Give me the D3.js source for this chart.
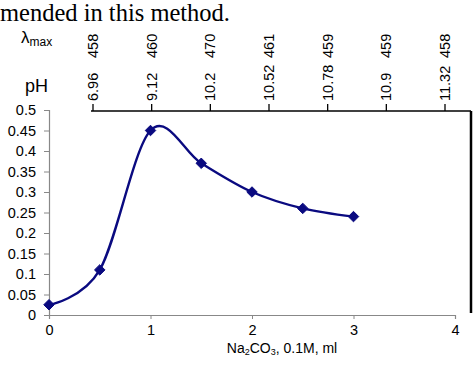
<!DOCTYPE html>
<html><head><meta charset="utf-8">
<script src="https://cdn.jsdelivr.net/npm/d3@7"></script>
<style>body{margin:0;background:#fff}svg{display:block}</style>
</head><body>
<svg id="c" width="474" height="373"></svg>
<script>
const xValues = [0, 0.5, 1, 1.5, 2, 2.5, 3];
const absorbance = [0.025, 0.11, 0.45, 0.37, 0.30, 0.26, 0.24];
const phLabels = ["6.96", "9.12", "10.2", "10.52", "10.78", "10.9", "11.32"];
const lambdaMax = ["458", "460", "470", "461", "459", "459", "458"];
const yTicks = [0, 0.05, 0.1, 0.15, 0.2, 0.25, 0.3, 0.35, 0.4, 0.45, 0.5];
const xTicks = [0, 1, 2, 3, 4];

const svg = d3.select("#c");
const font = "'Liberation Sans', Arial, sans-serif";
const x = d3.scaleLinear().domain([0, 4]).range([49, 455]);
const y = d3.scaleLinear().domain([0, 0.5]).range([315, 110]);
const topX = d3.scalePoint().domain(d3.range(phLabels.length)).range([93, 445]);

// caption fragment
svg.append("text").attr("x", 0).attr("y", 20.5)
  .attr("font-family", "'Liberation Serif', 'Times New Roman', serif")
  .attr("font-size", 24.5).attr("fill", "#000").text("mended in this method.");

// y axis
const ya = svg.append("g").attr("transform", "translate(49,0)")
  .call(d3.axisLeft(y).tickValues(yTicks).tickSize(5).tickPadding(8).tickFormat(d3.format("~g")));
ya.select(".domain").attr("stroke", "#888").attr("stroke-width", 1.2);
ya.selectAll(".tick line").attr("stroke", "#888");
ya.selectAll("text").attr("font-family", font).attr("font-size", 14.5).attr("fill", "#000");

// x axis
const xa = svg.append("g").attr("transform", "translate(0,315)")
  .call(d3.axisBottom(x).tickValues(xTicks).tickSize(4).tickPadding(6).tickFormat(d3.format("d")));
xa.select(".domain").attr("stroke", "#888").attr("stroke-width", 1.2);
xa.selectAll(".tick line").attr("stroke", "#888");
xa.selectAll("text").attr("font-family", font).attr("font-size", 14.5).attr("fill", "#000");

// x axis title
const xt = svg.append("text").attr("x", 282).attr("y", 353).attr("text-anchor", "middle")
  .attr("font-family", font).attr("font-size", 14).attr("fill", "#000");
xt.append("tspan").text("Na");
xt.append("tspan").attr("font-size", 9).attr("dy", 2).text("2");
xt.append("tspan").attr("dy", -2).text("CO");
xt.append("tspan").attr("font-size", 9).attr("dy", 2).text("3");
xt.append("tspan").attr("dy", -2).text(", 0.1M, ml");

// top secondary axis (pH / λmax)
svg.append("line").attr("x1", 91).attr("x2", 471).attr("y1", 111).attr("y2", 111)
  .attr("stroke", "#000").attr("stroke-width", 1.5);
svg.append("line").attr("x1", 471).attr("x2", 471).attr("y1", 111).attr("y2", 313)
  .attr("stroke", "#000").attr("stroke-width", 2.5);
const tg = svg.append("g");
tg.selectAll("line.t").data(phLabels).join("line")
  .attr("x1", (d, i) => topX(i)).attr("x2", (d, i) => topX(i))
  .attr("y1", 111).attr("y2", 104).attr("stroke", "#000").attr("stroke-width", 1.3);
tg.selectAll("text.ph").data(phLabels).join("text")
  .attr("transform", (d, i) => `translate(${topX(i)},101) rotate(-90)`)
  .attr("dy", "0.35em").attr("text-anchor", "start")
  .attr("font-family", font).attr("font-size", 14.5).attr("fill", "#000").text(d => d);
tg.selectAll("text.lm").data(lambdaMax).join("text")
  .attr("transform", (d, i) => `translate(${topX(i)},58) rotate(-90)`)
  .attr("dy", "0.35em").attr("text-anchor", "start")
  .attr("font-family", font).attr("font-size", 14.5).attr("fill", "#000").text(d => d);

const lt = svg.append("text").attr("x", 21).attr("y", 42.5)
  .attr("font-family", font).attr("font-size", 17).attr("fill", "#000");
lt.append("tspan").text("λ");
lt.append("tspan").attr("font-size", 12).attr("dy", 3).text("max");
svg.append("text").attr("x", 25).attr("y", 92)
  .attr("font-family", font).attr("font-size", 18).attr("fill", "#000").text("pH");

// series
const pts = xValues.map((v, i) => [v, absorbance[i]]);
svg.append("path").datum(pts)
  .attr("d", d3.line().x(d => x(d[0])).y(d => y(d[1])).curve(d3.curveCardinal.tension(0)))
  .attr("fill", "none").attr("stroke", "#0a0a80").attr("stroke-width", 2.4);
svg.selectAll("path.m").data(pts).join("path")
  .attr("transform", d => `translate(${x(d[0])},${y(d[1])})`)
  .attr("d", d3.symbol(d3.symbolDiamond2, 70))
  .attr("fill", "#0a0a80").attr("stroke", "#0a0a80").attr("stroke-width", 1);
</script>
</body></html>
